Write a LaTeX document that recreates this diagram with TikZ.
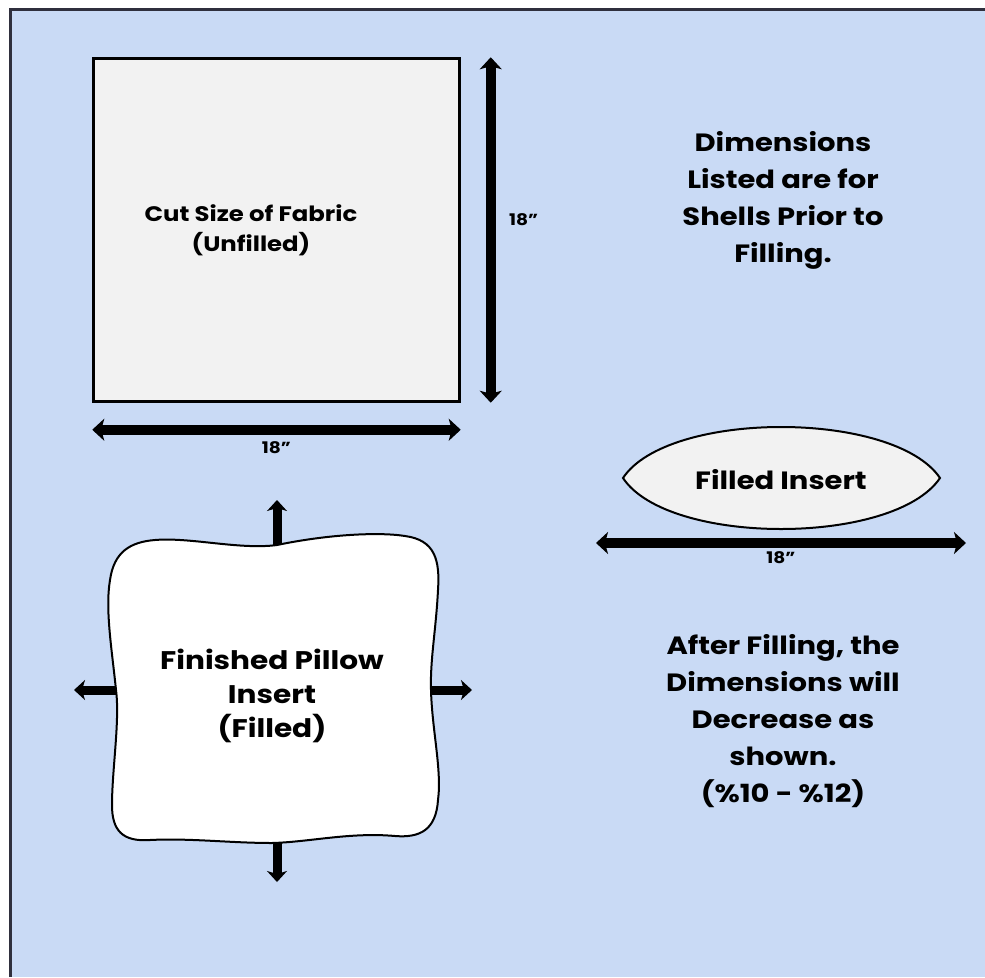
\documentclass[tikz,border=0pt]{standalone}
\usepackage{fontspec}
\setmainfont{Poppins}[FakeStretch=1.16]
\usetikzlibrary{arrows.meta}
\definecolor{sky}{HTML}{C9DAF5}
\definecolor{frame}{HTML}{2F2F3D}
\definecolor{sheet}{HTML}{F2F2F2}

\begin{document}
\begin{tikzpicture}[x=1pt,y=-1pt,
  dim/.style={line width=10pt,{Stealth[length=12pt,width=22pt,inset=3pt]}-{Stealth[length=12pt,width=22pt,inset=3pt]}},
  spread/.style={line width=9pt,-{Stealth[length=11pt,width=20pt,inset=3pt]}},
  sizelabel/.style={font=\fontsize{16}{20}\selectfont\bfseries},
  note/.style={align=center,font=\fontsize{25}{37}\selectfont\bfseries}]

  \useasboundingbox (0,0) rectangle (985,977);
  \fill[sky] (10,9) rectangle (985,977);
  \draw[frame,line width=3pt] (10.5,977) -- (10.5,9.5) -- (985,9.5);

  % cut size square
  \node[draw,line width=2.5pt,fill=sheet,minimum width=366pt,minimum height=343pt,inner sep=0pt] (cut) at (276.5,230) {};
  \node[align=center,font=\fontsize{21}{30}\selectfont\bfseries] (cuttext) at (251,230) {Cut Size of Fabric\\(Unfilled)};

  \draw[dim] ([xshift=30pt]cut.north east) -- ([xshift=30pt]cut.south east)
    node[midway,right=10pt,yshift=10pt,sizelabel] (vsize) {18\char34};
  \draw[dim] ([yshift=-27pt]cut.south west) -- ([yshift=-27pt]cut.south east)
    node[midway,below=3pt,sizelabel] (hsize) {18\char34};

  \node[note] (shells) at (783,200) {Dimensions\\Listed are for\\Shells Prior to\\Filling.};

  % filled insert, side view
  \draw[line width=2pt,fill=sheet] (623,478) .. controls (668,410) and (894,410) .. (940,478)
    .. controls (894,546) and (668,546) .. cycle;
  \node[font=\fontsize{25}{30}\selectfont\bfseries] (insert) at (781,480) {Filled Insert};
  \coordinate (lensl) at (596,543);
  \coordinate (lensr) at (966,543);
  \draw[dim] (lensl) -- (lensr) node[midway,below=0pt,sizelabel] (lsize) {18\char34};

  % finished pillow
  \foreach \n/\x/\y/\dx/\dy in {top/277/555/0/-55, bottom/277/830/0/52, left/128/690/-54/0, right/420/690/52/0} {
    \coordinate (\n a) at (\x,\y);
    \coordinate (\n b) at (\x+\dx,\y+\dy);
    \draw[spread] (\n a) -- (\n b);
  }
  \draw[line width=2pt,fill=white] (277,545) .. controls (330,534) and (380,532) .. (405,536)
    .. controls (435,540) and (440,560) .. (438,590)
    .. controls (436,630) and (430,660) .. (431,690)
    .. controls (432,730) and (442,770) .. (438,800)
    .. controls (436,830) and (420,838) .. (395,836)
    .. controls (350,832) and (310,842) .. (272,843)
    .. controls (230,843) and (190,838) .. (150,840)
    .. controls (122,842) and (112,830) .. (112,805)
    .. controls (112,770) and (120,720) .. (116,690)
    .. controls (112,650) and (105,610) .. (110,580)
    .. controls (114,552) and (130,542) .. (155,540)
    .. controls (190,537) and (240,550) .. cycle;
  \node[align=center,font=\fontsize{25.5}{34}\selectfont\bfseries] (pillow) at (272,696) {Finished Pillow\\Insert\\(Filled)};

  \node[note] (after) at (783,721) {After Filling, the\\Dimensions will\\Decrease as\\shown.\\(\%10 - \%12)};
\end{tikzpicture}
\end{document}
